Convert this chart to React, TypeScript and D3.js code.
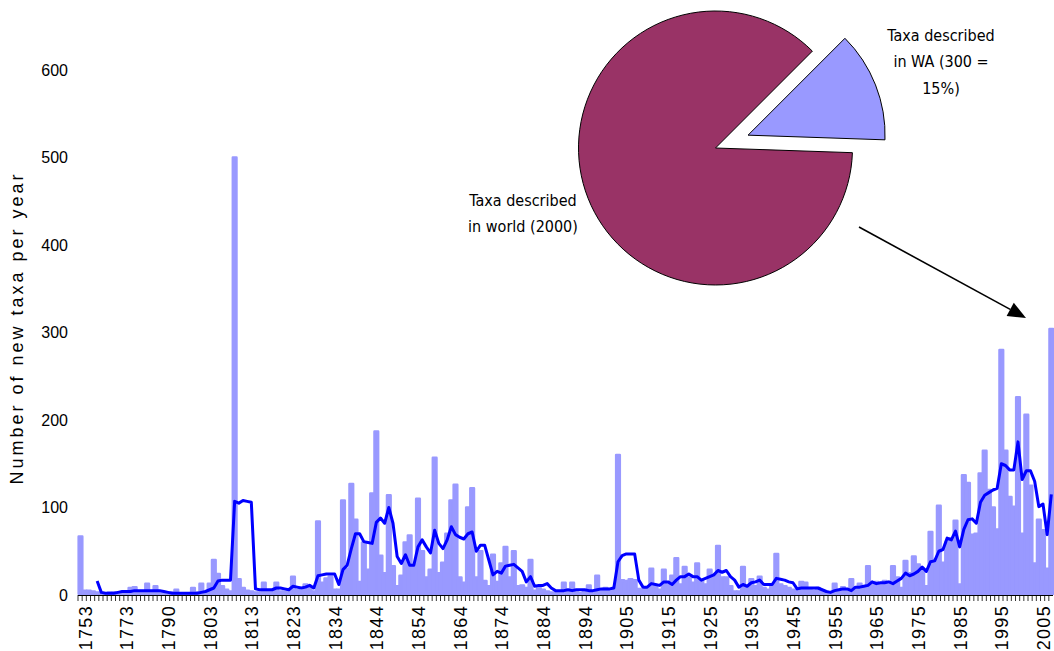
import React from 'react';
import * as d3 from 'd3';

// Category years (only every 10th is labelled on the axis)
const years: number[] = [
  1753, 1754, 1755, 1756, 1757, 1758, 1759, 1761, 1764, 1767,
  1773, 1774, 1775, 1776, 1777, 1779, 1781, 1782, 1785, 1787,
  1790, 1792, 1794, 1795, 1796, 1797, 1798, 1799, 1800, 1802,
  1803, 1804, 1805, 1806, 1807, 1808, 1809, 1810, 1811, 1812,
  1813, 1814, 1815, 1816, 1817, 1818, 1819, 1820, 1821, 1822,
  1823, 1824, 1825, 1826, 1827, 1828, 1830, 1831, 1832, 1833,
  1834, 1835, 1836, 1837, 1838, 1839, 1840, 1841, 1842, 1843,
  1844, 1845, 1846, 1847, 1848, 1849, 1850, 1851, 1852, 1853,
  1854, 1855, 1856, 1857, 1858, 1859, 1860, 1861, 1862, 1863,
  1864, 1865, 1866, 1867, 1868, 1869, 1870, 1871, 1872, 1873,
  1874, 1875, 1876, 1877, 1878, 1879, 1880, 1881, 1882, 1883,
  1884, 1885, 1886, 1887, 1888, 1889, 1890, 1891, 1892, 1893,
  1894, 1895, 1896, 1897, 1898, 1900, 1901, 1902, 1903, 1904,
  1905, 1906, 1907, 1908, 1909, 1910, 1911, 1912, 1913, 1914,
  1915, 1916, 1917, 1918, 1919, 1920, 1921, 1922, 1923, 1924,
  1925, 1926, 1927, 1928, 1929, 1930, 1931, 1932, 1933, 1934,
  1935, 1936, 1937, 1938, 1939, 1940, 1941, 1942, 1943, 1944,
  1945, 1946, 1947, 1948, 1949, 1950, 1951, 1952, 1953, 1954,
  1955, 1956, 1957, 1958, 1959, 1960, 1961, 1962, 1963, 1964,
  1965, 1966, 1967, 1968, 1969, 1970, 1971, 1972, 1973, 1974,
  1975, 1976, 1977, 1978, 1979, 1980, 1981, 1982, 1983, 1984,
  1985, 1986, 1987, 1988, 1989, 1990, 1991, 1992, 1993, 1994,
  1995, 1996, 1997, 1998, 1999, 2000, 2001, 2002, 2003, 2004,
  2005, 2006, 2007, 2008,
];

// Number of new taxa described per year (bars)
const newTaxa: number[] = [
  67, 5, 5, 4, 3, 1, 2, 3, 3, 2,
  3, 4, 8, 9, 4, 3, 13, 4, 10, 3,
  2, 2, 3, 6, 2, 1, 2, 8, 3, 13,
  3, 13, 40, 24, 10, 6, 4, 500, 18, 8,
  5, 4, 3, 3, 14, 4, 5, 14, 4, 4,
  5, 21, 6, 5, 12, 8, 4, 84, 14, 19,
  21, 6, 6, 108, 30, 127, 86, 15, 60, 29,
  116, 187, 45, 25, 114, 33, 10, 22, 60, 68,
  34, 110, 50, 20, 29, 157, 25, 37, 70, 108,
  126, 20, 14, 100, 122, 20, 50, 16, 10, 46,
  15, 36, 55, 20, 50, 10, 11, 8, 40, 5,
  8, 6, 4, 3, 2, 4, 14, 3, 14, 3,
  2, 4, 11, 3, 22, 6, 8, 6, 8, 160,
  17, 16, 18, 17, 7, 6, 8, 30, 10, 6,
  29, 12, 22, 42, 12, 32, 20, 14, 36, 16,
  12, 29, 22, 56, 20, 20, 10, 4, 4, 32,
  8, 18, 10, 21, 8, 6, 12, 47, 12, 10,
  8, 6, 5, 15, 14, 6, 5, 8, 4, 3,
  2, 13, 4, 9, 5, 18, 8, 13, 10, 33,
  14, 15, 12, 16, 12, 33, 20, 8, 39, 25,
  44, 35, 30, 10, 72, 40, 102, 37, 60, 65,
  85, 12, 137, 128, 69, 70, 139, 165, 120, 100,
  75, 280, 165, 112, 101, 226, 70, 206, 125, 36,
  86, 74, 30, 304,
];

// 5-period moving average line (as drawn in the chart)
const movingAvg: (number | null)[] = [
  null, null, null, null, 16, 3, 2, 2, 2, 3,
  4, 4, 4, 5, 5, 5, 5, 5, 5, 5,
  4, 3, 2, 2, 2, 2, 2, 2, 2, 3,
  4, 6, 8, 16, 17, 17, 17, 107, 105, 108,
  107, 106, 7, 6, 6, 6, 6, 8, 8, 7,
  6, 10, 9, 8, 9, 11, 8, 22, 23, 24,
  24, 24, 12, 29, 34, 53, 70, 70, 61, 60,
  59, 83, 88, 82, 100, 82, 44, 36, 46, 34,
  34, 55, 63, 55, 48, 74, 59, 53, 63, 78,
  69, 66, 64, 70, 72, 50, 57, 57, 40, 23,
  27, 25, 33, 34, 35, 31, 27, 15, 21, 10,
  11, 11, 13, 8, 5, 5, 5, 6, 5, 6,
  6, 6, 5, 5, 6, 7, 7, 7, 8, 38,
  45, 47, 47, 47, 17, 9, 9, 13, 12, 11,
  15, 15, 12, 17, 21, 21, 24, 21, 21, 17,
  19, 21, 23, 28, 26, 28, 21, 17, 9, 12,
  10, 14, 15, 17, 12, 12, 12, 19, 18, 17,
  15, 14, 7, 8, 8, 8, 8, 8, 6, 4,
  3, 5, 6, 7, 7, 5, 9, 9, 10, 11,
  15, 13, 14, 14, 15, 13, 16, 19, 25, 22,
  24, 27, 32, 27, 38, 39, 50, 52, 65, 63,
  73, 55, 75, 86, 87, 82, 106, 114, 117, 120,
  122, 150, 148, 143, 143, 175, 132, 142, 142, 130,
  101, 104, 69, 115,
];

const yTicks: number[] = [0, 100, 200, 300, 400, 500, 600];

// Inset pie: WA share of world taxa
const pieNames: string[] = ['WA', 'World'];
const pieValues: number[] = [300, 2000];
const pieColors: string[] = ['#9999ff', '#993366'];
const waLabelLines: string[] = ['Taxa described', 'in WA (300 =', '15%)'];
const worldLabelLines: string[] = ['Taxa described', 'in world (2000)'];

const yTitle = 'Number of new taxa per year';

export default function App() {
  const W = 1054;
  const H = 651;
  const plotLeft = 78;
  const step = 4.1667;
  const y0 = 595;

  const x = d3
    .scaleBand<number>()
    .domain(years)
    .range([plotLeft, plotLeft + years.length * step])
    .padding(0);
  const y = d3.scaleLinear().domain([0, 600]).range([y0, 70]);
  const bw = x.bandwidth();
  const cx = (yr: number) => (x(yr) as number) + bw / 2 + 0.4;

  const barW = bw * 0.9;
  const barStroke = 2.4;

  const lineData = years.map((yr, i) => ({ yr, v: movingAvg[i] }));
  const lineGen = d3
    .line<{ yr: number; v: number | null }>()
    .defined((d) => d.v !== null)
    .x((d) => cx(d.yr))
    .y((d) => y(d.v as number));

  // pie
  const pieCx = 715.5;
  const pieCy = 148;
  const pieR = 137;
  const explode = 35;
  const pieGen = d3
    .pie<number>()
    .sort(null)
    .startAngle(Math.PI / 4)
    .endAngle(Math.PI / 4 + 2 * Math.PI)
    .value((d) => d);
  const arcs = pieGen(pieValues);
  const arcGen = d3.arc<d3.PieArcDatum<number>>().innerRadius(0).outerRadius(pieR);

  // arrow annotation
  const a0 = [859, 227];
  const a1 = [1026, 318];
  const dx = a1[0] - a0[0];
  const dy = a1[1] - a0[1];
  const len = Math.hypot(dx, dy);
  const ux = dx / len;
  const uy = dy / len;
  const headL = 18;
  const headW = 7.5;
  const bx = a1[0] - ux * headL;
  const by = a1[1] - uy * headL;
  const head = `${a1[0]},${a1[1]} ${bx - uy * headW},${by + ux * headW} ${bx + uy * headW},${by - ux * headW}`;

  const labelFont = "'DejaVu Sans Condensed', 'DejaVu Sans', sans-serif";
  const axisFont = "'Liberation Sans', Arial, sans-serif";

  return (
    <svg
      width={W}
      height={H}
      style={{ position: 'absolute', left: 0, top: 0, background: '#fff', display: 'block' }}
    >
      <rect x={0} y={0} width={W} height={H} fill="#fff" />
      {/* bars */}
      <g>
        {years.map((yr, i) => {
          const v = newTaxa[i];
          const top = y(v);
          const h = Math.max(0.5, y0 - barStroke / 2 - top);
          return (
            <rect
              key={yr}
              x={cx(yr) - barW / 2}
              y={top}
              width={barW}
              height={h}
              fill="#9999ff"
              stroke="#9999ff"
              strokeWidth={barStroke}
              strokeLinejoin="round"
            />
          );
        })}
      </g>
      {/* moving average line */}
      <path
        d={lineGen(lineData) || ''}
        fill="none"
        stroke="#0000ff"
        strokeWidth={3}
        strokeLinejoin="round"
        strokeLinecap="butt"
      />
      {/* x axis */}
      <line x1={plotLeft} x2={plotLeft + years.length * bw} y1={y0 + 0.5} y2={y0 + 0.5} stroke="#000" strokeWidth={1} />
      <g>
        {years.map((yr) => (
          <line key={yr} x1={x(yr) as number} x2={x(yr) as number} y1={y0} y2={y0 + 6} stroke="#000" strokeWidth={0.8} />
        ))}
      </g>
      <g>
        {years.map((yr, i) =>
          i % 10 === 0 ? (
            <text
              key={yr}
              transform={`translate(${cx(yr) + 5.3},${605}) rotate(-90)`}
              textAnchor="end"
              dominantBaseline="central"
              fontFamily={axisFont}
              fontSize={18}
              letterSpacing={1.3}
              fill="#000"
            >
              {yr}
            </text>
          ) : null
        )}
      </g>
      {/* y tick labels */}
      <g>
        {yTicks.map((t) => (
          <text
            key={t}
            x={68}
            y={y(t)}
            textAnchor="end"
            dominantBaseline="central"
            fontFamily={axisFont}
            fontSize={16}
            fill="#000"
          >
            {t}
          </text>
        ))}
      </g>
      {/* y title */}
      <text
        transform="translate(17,328) rotate(-90)"
        textAnchor="middle"
        dominantBaseline="central"
        fontFamily={axisFont}
        fontSize={18}
        letterSpacing={3}
        fill="#000"
      >
        {yTitle}
      </text>
      {/* pie inset */}
      <g transform={`translate(${pieCx},${pieCy})`}>
        {arcs.map((a, i) => {
          const mid = (a.startAngle + a.endAngle) / 2;
          const off = i === 0 ? explode : 0;
          return (
            <path
              key={pieNames[i]}
              d={arcGen(a) || ''}
              transform={`translate(${Math.sin(mid) * off},${-Math.cos(mid) * off})`}
              fill={pieColors[i]}
              stroke="#000"
              strokeWidth={1}
            />
          );
        })}
      </g>
      <g fontFamily={labelFont} fontSize={16} fill="#000" textAnchor="middle">
        {waLabelLines.map((t, i) => (
          <text key={t} x={941} y={35 + i * 26.5} dominantBaseline="central">
            {t}
          </text>
        ))}
        {worldLabelLines.map((t, i) => (
          <text key={t} x={523} y={200 + i * 26} dominantBaseline="central">
            {t}
          </text>
        ))}
      </g>
      {/* arrow */}
      <line x1={a0[0]} y1={a0[1]} x2={bx} y2={by} stroke="#000" strokeWidth={1.6} />
      <polygon points={head} fill="#000" />
    </svg>
  );
}
